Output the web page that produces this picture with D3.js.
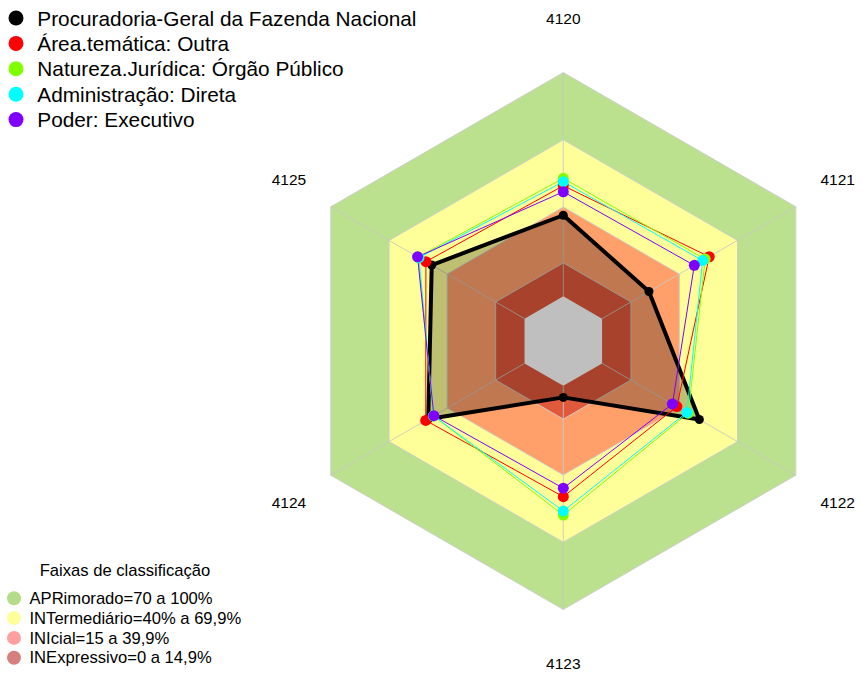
<!DOCTYPE html>
<html>
<head>
<meta charset="utf-8">
<script src="https://cdn.jsdelivr.net/npm/d3@7"></script>
<style>
  html, body { margin: 0; padding: 0; background: #fff; }
  svg { display: block; font-family: Arial, "Liberation Sans", sans-serif; }
</style>
</head>
<body>
<svg id="chart" width="863" height="673"></svg>
<script>
// ---- data ----
const axes = ["4120", "4121", "4122", "4123", "4124", "4125"];
const seriesNames = [
  "Procuradoria-Geral da Fazenda Nacional",
  "Área.temática: Outra",
  "Natureza.Jurídica: Órgão Público",
  "Administração: Direta",
  "Poder: Executivo"
];
const seriesColors = ["#000000", "#FF0000", "#80FF00", "#00FFFF", "#8000FF"];
const valuesPGFN      = [36.2, 24.2, 50.2, 5.2, 49.7, 47.9];
const valuesOutra     = [49.4, 55.3, 38.6, 49.6, 51.0, 50.9];
const valuesOrgao     = [52.7, 53.2, 44.5, 57.8, 47.0, 55.0];
const valuesDireta    = [51.2, 51.9, 43.8, 56.0, 47.0, 54.5];
const valuesExecutivo = [46.7, 47.6, 36.3, 45.8, 46.8, 55.2];
const seriesValues = [valuesPGFN, valuesOutra, valuesOrgao, valuesDireta, valuesExecutivo];

const bandNames = [
  "APRimorado=70 a 100%",
  "INTermediário=40% a 69,9%",
  "INIcial=15 a 39,9%",
  "INExpressivo=0 a 14,9%"
];
const bandUpper = [100, 69.9, 39.9, 14.9];
const bandFill = ["#BBE08E", "#FFFF99", "#FFA06B", "#E0593B"];
const bandLegendColor = ["#B5DC88", "#FFFF99", "#FF9F9F", "#D67F7F"];
const bandTitle = "Faixas de classificação";

// ---- layout ----
const svg = d3.select("#chart");
const cx = 563.3, cy = 341, R = 268.5;
const r = d3.scaleLinear().domain([0, 100]).range([R / 6, R]);
const angle = d3.scalePoint().domain(axes).range([0, 2 * Math.PI * (axes.length - 1) / axes.length]);
const pt = (a, v) => {
  const t = angle(a);
  return [cx + r(v) * Math.sin(t), cy - r(v) * Math.cos(t)];
};
const line = d3.line().curve(d3.curveLinearClosed);

// bands
const g = svg.append("g");
bandUpper.forEach((u, i) => {
  g.append("path")
    .attr("d", line(axes.map(a => pt(a, u))))
    .attr("fill", bandFill[i])
    .attr("stroke", "rgba(205,205,205,0.9)")
    .attr("stroke-width", 1);
});
// white centre (value 0)
g.append("path")
  .attr("d", line(axes.map(a => pt(a, 0))))
  .attr("fill", "#ffffff")
  .attr("stroke", "none");

// spokes
axes.forEach(a => {
  const p0 = pt(a, 0), p1 = pt(a, 100);
  g.append("line")
    .attr("x1", p0[0]).attr("y1", p0[1])
    .attr("x2", p1[0]).attr("y2", p1[1])
    .attr("stroke", "rgba(200,200,200,0.85)")
    .attr("stroke-width", 1);
});

// series polygons
seriesValues.forEach((vals, i) => {
  const pts = axes.map((a, j) => pt(a, vals[j]));
  g.append("path")
    .attr("d", line(pts))
    .attr("fill", i === 0 ? "rgba(0,0,0,0.25)" : "none")
    .attr("stroke", seriesColors[i])
    .attr("stroke-width", i === 0 ? 4 : 1)
    .attr("stroke-linejoin", "round");
});
// series points
seriesValues.forEach((vals, i) => {
  axes.forEach((a, j) => {
    const p = pt(a, vals[j]);
    g.append("circle")
      .attr("cx", p[0]).attr("cy", p[1])
      .attr("r", i === 0 ? 4.5 : 5.5)
      .attr("fill", seriesColors[i]);
  });
});

// axis labels
axes.forEach(a => {
  const t = angle(a);
  const lrY = R * 1.2, lrX = R * 1.18;
  svg.append("text")
    .attr("x", cx + lrX * Math.sin(t))
    .attr("y", cy - lrY * Math.cos(t))
    .attr("text-anchor", "middle")
    .attr("dominant-baseline", "central")
    .attr("font-size", 15.5)
    .attr("fill", "#000")
    .text(a);
});

// top legend
const leg = svg.append("g");
seriesNames.forEach((n, i) => {
  const y = 18 + i * 25.4;
  leg.append("circle").attr("cx", 16).attr("cy", y).attr("r", 7.5).attr("fill", seriesColors[i]);
  leg.append("text").attr("x", 37.3).attr("y", y + 7.5)
    .attr("font-size", 20.8).attr("fill", "#000").text(n);
});

// bottom legend
const leg2 = svg.append("g");
leg2.append("text").attr("x", 125).attr("y", 576)
  .attr("text-anchor", "middle").attr("font-size", 16.6).attr("fill", "#000").text(bandTitle);
bandNames.forEach((n, i) => {
  const y = 598.3 + i * 19.8;
  leg2.append("circle").attr("cx", 14).attr("cy", y).attr("r", 7).attr("fill", bandLegendColor[i]);
  leg2.append("text").attr("x", 29.5).attr("y", y + 5.7)
    .attr("font-size", 16.6).attr("fill", "#000").text(n);
});
</script>
</body>
</html>
